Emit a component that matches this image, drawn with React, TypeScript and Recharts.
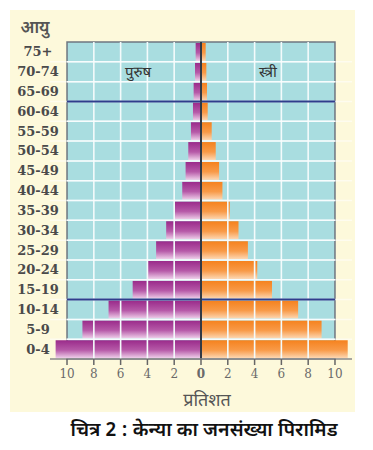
import React from 'react';
import { BarChart, Bar, XAxis, YAxis, ReferenceLine, ReferenceArea, ReferenceDot } from 'recharts';

const ageGroups = ['75+', '70-74', '65-69', '60-64', '55-59', '50-54', '45-49', '40-44', '35-39', '30-34', '25-29', '20-24', '15-19', '10-14', '5-9', '0-4'];
const malePercent = [0.4, 0.45, 0.55, 0.6, 0.75, 0.95, 1.15, 1.4, 1.95, 2.6, 3.35, 3.95, 5.1, 6.9, 8.85, 10.85];
const femalePercent = [0.35, 0.4, 0.45, 0.5, 0.8, 1.1, 1.35, 1.6, 2.15, 2.8, 3.5, 4.2, 5.3, 7.25, 9.0, 10.95];
const xTicks = [-10, -8, -6, -4, -2, 0, 2, 4, 6, 8, 10];
const gridX = [-8, -6, -4, -2, 2, 4, 6, 8];
const dividerAges = ['60-64', '10-14'];

const data = ageGroups.map((age, i) => ({ age, male: -malePercent[i], female: femalePercent[i] }));

const HINDI = '"Noto Sans Devanagari", "Lohit Devanagari", "Noto Sans", sans-serif';
const SERIF = '"DejaVu Serif", serif';

const YTick = (props: any) => {
  const { y, payload } = props;
  return (
    <text x={38} y={y} dy={4.5} textAnchor="middle" fill="#4a4a4a" fontSize={13} fontFamily={SERIF} fontWeight={600}>
      {payload.value}
    </text>
  );
};

const XTick = (props: any) => {
  const { x, y, payload } = props;
  return (
    <text x={x} y={y} dy={10} textAnchor="middle" fill="#6a6a6a" fontSize={12} fontFamily={SERIF} fontWeight={payload.value === 0 ? 700 : 400}>
      {Math.abs(payload.value)}
    </text>
  );
};

export default function App() {
  return (
    <div style={{ position: 'absolute', left: 0, top: 0, width: 373, height: 450 }}>
      <div style={{ position: 'absolute', left: 10, top: 10, width: 345, height: 402, background: '#fdf9db' }} />
      <div style={{ position: 'absolute', left: 0, top: 0 }}>
        <BarChart
          width={373}
          height={420}
          data={data}
          layout="vertical"
          stackOffset="sign"
          barCategoryGap={1}
          margin={{ top: 42, right: 21, bottom: 0, left: 10 }}
        >
          <defs>
            <linearGradient id="maleGrad" x1="0" y1="0" x2="0" y2="1">
              <stop offset="0%" stopColor="#9a2a8a" />
              <stop offset="55%" stopColor="#b65aa8" />
              <stop offset="100%" stopColor="#efd0ea" />
            </linearGradient>
            <linearGradient id="femaleGrad" x1="0" y1="0" x2="0" y2="1">
              <stop offset="0%" stopColor="#f5821e" />
              <stop offset="55%" stopColor="#f89a48" />
              <stop offset="100%" stopColor="#fdd8b4" />
            </linearGradient>
          </defs>
          <XAxis
            type="number"
            domain={[-11.27, 11.27]}
            ticks={xTicks}
            height={61}
            tick={<XTick />}
            tickSize={6}
            tickMargin={3}
            stroke="#8a8a8a"
            axisLine={{ stroke: '#8a8a8a', strokeWidth: 1.5 }}
            tickLine={{ stroke: '#666', strokeWidth: 1.5 }}
            allowDataOverflow
            label={{
              content: (p: any) => {
                const vb = p.viewBox || { x: 50, y: 359, width: 302 };
                return (
                  <text x={vb.x + vb.width / 2 + 6} y={vb.y + 47} textAnchor="middle" fill="#555" fontSize={18} fontFamily={HINDI}>
                    प्रतिशत
                  </text>
                );
              },
            }}
          />
          <YAxis
            type="category"
            dataKey="age"
            width={40}
            axisLine={false}
            tickLine={false}
            interval={0}
            tick={<YTick />}
            label={{
              content: (p: any) => {
                const vb = p.viewBox || { x: 10, y: 42 };
                return (
                  <text x={vb.x + 25} y={vb.y - 9} textAnchor="middle" fill="#555" fontSize={17} fontWeight={600} fontFamily={HINDI}>
                    आयु
                  </text>
                );
              },
            }}
          />
          <ReferenceArea x1={-10} x2={10} fill="#a9dde0" fillOpacity={1} stroke="#6f7680" strokeWidth={1.5} ifOverflow="visible" />
          {gridX.map((v) => (
            <ReferenceLine key={'gx' + v} x={v} stroke="#eef9fa" strokeWidth={1.5} />
          ))}
          {ageGroups.slice(1).map((a) => (
            <ReferenceLine
              key={'gy' + a}
              segment={[{ x: -10, y: a }, { x: 10, y: a }]}
              position="start"
              stroke="#eef9fa"
              strokeWidth={1.5}
            />
          ))}
          <Bar dataKey="male" stackId="pop" fill="url(#maleGrad)" isAnimationActive={false} />
          <Bar dataKey="female" stackId="pop" fill="url(#femaleGrad)" isAnimationActive={false} />
          {gridX.map((v) => (
            <ReferenceLine key={'ox' + v} x={v} stroke="#ffffff" strokeOpacity={0.35} strokeWidth={1.5} />
          ))}
          {ageGroups.slice(1).map((a) => (
            <ReferenceLine
              key={'oy' + a}
              segment={[{ x: -11.27, y: a }, { x: 11.27, y: a }]}
              position="start"
              stroke="#ffffff"
              strokeOpacity={0.55}
              strokeWidth={1.5}
            />
          ))}
          {dividerAges.map((a) => (
            <ReferenceLine
              key={'dv' + a}
              segment={[{ x: -10, y: a }, { x: 10, y: a }]}
              position="start"
              stroke="#2f3d8c"
              strokeWidth={2}
            />
          ))}
          <ReferenceLine x={0} stroke="#333a45" strokeWidth={2} />
          <ReferenceDot
            x={-4.7}
            y="70-74"
            r={1}
            fill="none"
            stroke="none"
            label={{ value: 'पुरुष', position: 'center', fill: '#333', fontSize: 15, fontFamily: HINDI }}
          />
          <ReferenceDot
            x={5}
            y="70-74"
            r={1}
            fill="none"
            stroke="none"
            label={{ value: 'स्त्री', position: 'center', fill: '#333', fontSize: 15, fontFamily: HINDI }}
          />
        </BarChart>
      </div>
      <div
        style={{
          position: 'absolute',
          left: 0,
          top: 420,
          width: 408,
          textAlign: 'center',
          fontFamily: HINDI,
          fontSize: 19.5,
          fontWeight: 600,
          color: '#111',
          lineHeight: '24px',
          whiteSpace: 'nowrap',
        }}
      >
        चित्र 2 : केन्या का जनसंख्या पिरामिड
      </div>
    </div>
  );
}
